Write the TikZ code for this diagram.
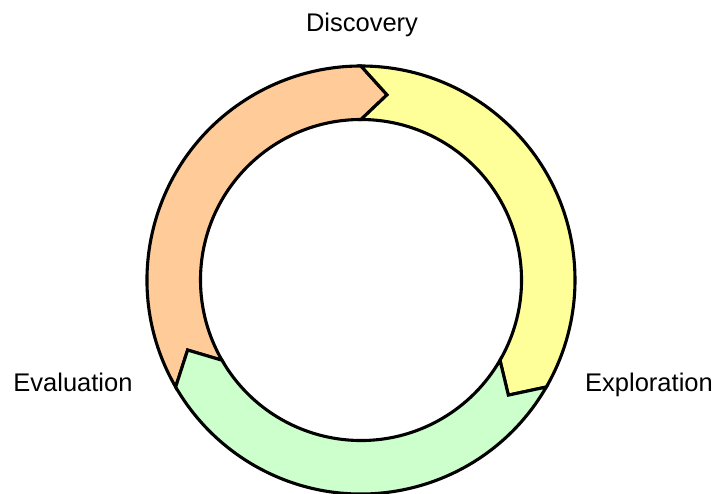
\documentclass[tikz,border=0pt]{standalone}
\usepackage{xcolor}
\usepackage{fontspec}
\setmainfont{Liberation Sans}
\usepackage{tikz}
\usetikzlibrary{calc}

\definecolor{orangeseg}{RGB}{255,204,153}
\definecolor{yellowseg}{RGB}{255,255,153}
\definecolor{greenseg}{RGB}{204,255,204}

\begin{document}
\begin{tikzpicture}[line width=3.1pt, line join=miter]
 	  \tikzstyle{phase}=[font=\fontsize{25.5}{30}\selectfont, anchor=base]
\useasboundingbox (-361pt,-214pt) rectangle (356pt,280pt);
% three arrows of the cycle, each one 120 degrees long
\foreach \a/\col in {210/orangeseg, 90/yellowseg, -30/greenseg}{
    \filldraw[fill=\col] (\a:214pt) arc[start angle=\a, end angle=\a-120, radius=214pt]
        -- (\a-128:187pt) -- (\a-120:160.5pt)
        arc[start angle=\a-120, end angle=\a, radius=160.5pt]
        -- (\a-8:187pt) -- cycle;
      }
    \node[phase] (discovery) at (1pt,248pt) {Discovery};
    \node[phase] (evaluation) at (-288pt,-112pt) {Evaluation};
    \node[phase] (exploration) at (288pt,-112pt) {Exploration};
   \end{tikzpicture}
\end{document}
